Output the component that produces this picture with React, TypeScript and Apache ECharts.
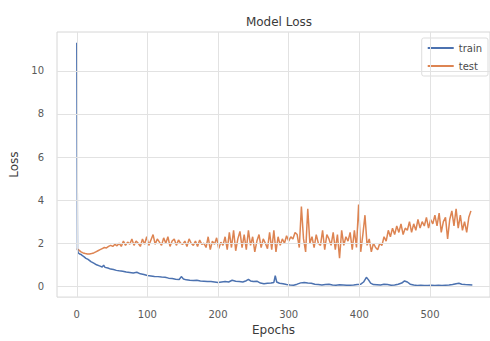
import React, { useEffect, useRef } from "react";
import * as echarts from "echarts";

const trainEpochs = [
  0, 1, 2, 4, 6, 8, 10, 13, 16, 20,
  24, 28, 32, 36, 38, 40, 44, 48, 52, 56,
  60, 65, 70, 75, 80, 85, 90, 95, 100, 105,
  110, 115, 120, 125, 130, 135, 140, 145, 148, 151,
  155, 160, 165, 170, 175, 180, 185, 190, 195, 200,
  205, 210, 215, 220, 225, 230, 235, 240, 243, 246,
  250, 255, 260, 265, 270, 275, 279, 281, 283, 287,
  292, 297, 302, 307, 312, 317, 322, 327, 332, 337,
  342, 347, 352, 357, 362, 367, 372, 377, 382, 387,
  392, 397, 402, 406, 410, 413, 416, 420, 425, 430,
  435, 440, 445, 450, 455, 460, 464, 468, 472, 477,
  482, 487, 492, 497, 502, 507, 512, 517, 522, 527,
  532, 537, 541, 545, 550, 555, 560,
];
const trainLoss = [
  11.3, 1.7, 1.55, 1.5, 1.48, 1.42, 1.38, 1.3, 1.25, 1.15,
  1.08, 1.0, 0.95, 0.9, 0.98, 0.88, 0.85, 0.8, 0.78, 0.74,
  0.72, 0.7, 0.66, 0.64, 0.62, 0.65, 0.58, 0.55, 0.5, 0.48,
  0.46, 0.45, 0.43, 0.42, 0.38, 0.36, 0.33, 0.32, 0.45, 0.34,
  0.3, 0.28, 0.27, 0.28, 0.25, 0.24, 0.22, 0.22, 0.2, 0.18,
  0.2, 0.22, 0.2, 0.28, 0.24, 0.22, 0.2, 0.26, 0.32, 0.25,
  0.22, 0.24, 0.15, 0.12, 0.14, 0.15, 0.18, 0.5, 0.2, 0.14,
  0.12, 0.08, 0.06, 0.05, 0.1, 0.16, 0.18, 0.15, 0.14, 0.1,
  0.08, 0.06, 0.08, 0.1, 0.06, 0.05, 0.07, 0.06, 0.05, 0.05,
  0.06, 0.08, 0.1, 0.2, 0.42, 0.3, 0.15, 0.08, 0.07, 0.06,
  0.1, 0.08, 0.05, 0.06, 0.1, 0.15, 0.25, 0.2, 0.1, 0.06,
  0.04, 0.05, 0.04, 0.04, 0.05, 0.04, 0.05, 0.04, 0.05, 0.06,
  0.08, 0.12, 0.14, 0.1, 0.08, 0.07, 0.06,
];

// test loss sampled every 3 epochs, 0..558
const testLoss = [
  1.75, 1.68, 1.6, 1.55, 1.52, 1.5, 1.5, 1.52, 1.55, 1.6,
  1.65, 1.7, 1.75, 1.8, 1.78, 1.85, 1.9, 1.85, 1.95, 1.88,
  2.0, 1.85, 2.1, 1.9, 2.05, 1.95, 2.2, 1.9, 2.1, 2.0,
  1.85, 2.2, 1.95, 2.3, 1.9, 2.15, 2.4, 1.95, 2.2, 2.05,
  1.9, 2.25, 2.0, 2.3, 1.85, 2.1, 2.2, 1.9, 2.15, 2.0,
  1.95, 2.1, 1.85, 2.2, 2.0, 1.9, 2.1, 1.85, 2.15, 1.95,
  2.0, 1.8, 2.3, 1.7, 2.1, 1.95, 2.25, 1.75, 2.05, 1.9,
  2.3, 1.7, 2.5, 1.8, 2.6, 1.65, 2.2, 2.55, 1.8, 2.4,
  1.7, 2.6, 1.9, 2.3, 1.6, 2.1, 2.4, 1.8, 2.2, 2.0,
  1.75, 2.5, 1.7, 2.6, 1.6, 2.3, 1.9, 2.2, 2.0, 2.35,
  2.1, 2.3, 2.2, 2.5, 2.4, 1.8, 3.7, 2.2, 1.6, 3.6,
  2.0, 2.3, 1.8, 2.4, 2.0, 1.9, 2.6, 1.7, 2.4, 2.2,
  1.9, 2.5, 1.7, 2.4, 1.3, 2.6, 1.9, 2.3, 2.1, 2.5,
  1.7, 2.6, 1.8, 3.8, 1.6, 2.4, 3.3, 1.9, 2.2, 1.6,
  2.0, 1.8, 1.7, 2.0, 1.9, 2.3, 2.1, 2.6, 2.3, 2.7,
  2.4, 2.8, 2.5, 2.9, 2.4, 2.7, 2.6, 3.0, 2.5, 2.9,
  2.6, 3.1, 2.7, 3.0, 2.8, 3.2, 2.7, 3.1, 2.9, 3.3,
  2.8, 3.4, 2.5, 3.0, 3.2, 2.2, 3.1, 3.5, 2.8, 3.6,
  2.7, 3.3, 2.6, 3.0, 2.5, 3.2, 3.5,
];
const testEpochs = testLoss.map((_, i) => i * 3);

const xTicks = [0, 100, 200, 300, 400, 500];
const yTicks = [0, 2, 4, 6, 8, 10];

const FONT = "DejaVu Sans";

export default function App() {
  const ref = useRef<HTMLDivElement>(null);
  useEffect(() => {
    if (!ref.current) return;
    const chart = echarts.init(ref.current, null, { renderer: "svg" });
    chart.setOption({
      animation: false,
      backgroundColor: "#ffffff",
      textStyle: { fontFamily: FONT },
      title: {
        text: "Model Loss",
        left: 274,
        textAlign: "center",
        top: 11,
        textStyle: { fontFamily: FONT, fontSize: 12, fontWeight: "normal", color: "#3a3a3a" },
      },
      grid: {
        left: 57,
        right: 0,
        top: 32,
        bottom: 41,
        show: true,
        borderColor: "#d6d6d6",
        borderWidth: 1,
        backgroundColor: "#ffffff",
      },
      legend: {
        orient: "vertical",
        right: 2,
        top: 38,
        padding: [5, 6, 5, 6],
        itemGap: 8,
        itemWidth: 26,
        itemHeight: 2,
        backgroundColor: "rgba(255,255,255,0.85)",
        borderColor: "#dddddd",
        borderWidth: 1,
        borderRadius: 2,
        textStyle: { fontFamily: FONT, fontSize: 10, color: "#4a4a4a" },
        data: [
          { name: "train", icon: "rect" },
          { name: "test", icon: "rect" },
        ],
      },
      xAxis: {
        type: "value",
        min: -28,
        max: 585,
        name: "Epochs",
        nameLocation: "middle",
        nameGap: 26,
        nameTextStyle: { fontFamily: FONT, fontSize: 12, color: "#3a3a3a" },
        axisLine: { show: false },
        axisTick: { show: false },
        splitLine: { show: false },
        axisLabel: {
          fontFamily: FONT,
          fontSize: 10,
          color: "#5a5a5a",
          margin: 12,
          customValues: xTicks,
        },
      },
      yAxis: {
        type: "value",
        min: -0.5,
        max: 11.8,
        name: "Loss",
        nameLocation: "middle",
        nameGap: 36,
        nameTextStyle: { fontFamily: FONT, fontSize: 12, color: "#3a3a3a" },
        axisLine: { show: false },
        axisTick: { show: false },
        splitLine: { show: false },
        axisLabel: {
          fontFamily: FONT,
          fontSize: 10,
          color: "#5a5a5a",
          margin: 13,
          customValues: yTicks,
        },
      },
      series: [
        {
          type: "line",
          name: "gridX",
          silent: true,
          data: [],
          markLine: {
            silent: true,
            symbol: "none",
            label: { show: false },
            lineStyle: { color: "#e2e2e2", width: 1, type: "solid" },
            data: [
              ...xTicks.map((v) => ({ xAxis: v })),
              ...yTicks.map((v) => ({ yAxis: v })),
            ],
          },
          z: 1,
        },
        {
          type: "line",
          name: "train",
          data: trainEpochs.map((e, i) => [e, trainLoss[i]]),
          showSymbol: false,
          symbol: "none",
          color: "#4c72b0",
          lineStyle: { width: 1.5, color: "#4c72b0" },
          z: 3,
        },
        {
          type: "line",
          name: "test",
          data: testEpochs.map((e, i) => [e, testLoss[i]]),
          showSymbol: false,
          symbol: "none",
          color: "#dd8452",
          lineStyle: { width: 1.5, color: "#dd8452" },
          z: 2,
        },
      ],
    });
    return () => chart.dispose();
  }, []);
  return <div ref={ref} style={{ width: 490, height: 341, position: "absolute", left: 0, top: 0 }} />;
}
